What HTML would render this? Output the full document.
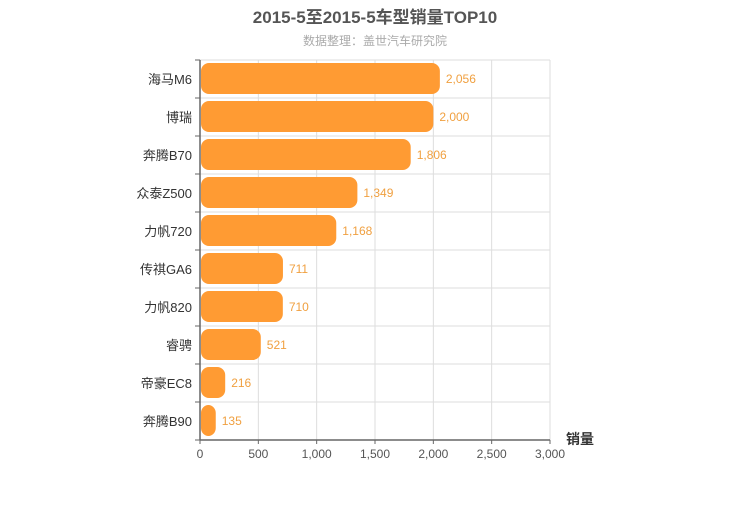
<!DOCTYPE html>
<html><head><meta charset="utf-8"><style>
body{margin:0;background:#fff;}
svg{font-family:"Liberation Sans","Noto Sans CJK SC",sans-serif;}
</style></head><body>
<svg width="750" height="500" id="c">
<text x="375" y="23" text-anchor="middle" font-size="17" font-weight="bold" fill="#555">2015-5至2015-5车型销量TOP10</text>
<text x="375" y="45" text-anchor="middle" font-size="12" fill="#aaa">数据整理：盖世汽车研究院</text>
<text x="580" y="444" text-anchor="middle" font-size="14" font-weight="bold" fill="#333">销量</text>
<g id="grid"></g><g id="bars"></g><g id="axes"></g>
</svg>
<script>
const categories=["海马M6","博瑞","奔腾B70","众泰Z500","力帆720","传祺GA6","力帆820","睿骋","帝豪EC8","奔腾B90"];
const values=[2056,2000,1806,1349,1168,711,710,521,216,135];
const ticks=[0,500,1000,1500,2000,2500,3000];
const X0=200,X1=550,Y0=60,Y1=440,max=3000;
const ns="http://www.w3.org/2000/svg";
const xs=v=>X0+(X1-X0)*v/max;
const rowH=(Y1-Y0)/categories.length;
const ys=i=>Y0+rowH*i;
function mk(t,a,p){const e=document.createElementNS(ns,t);for(const k in a)e.setAttribute(k,a[k]);p.appendChild(e);return e;}
const g=document.getElementById('grid'),b=document.getElementById('bars'),ax=document.getElementById('axes');
ticks.forEach(t=>{
 const l=mk('line',{x1:xs(t),x2:xs(t),y1:Y0,y2:Y1,stroke:'#ddd'},g);
 
 
 const tx=mk('text',{x:xs(t),y:Y1+18,'text-anchor':'middle','font-size':12,fill:'#555'},ax);
 tx.textContent=t.toLocaleString('en-US');
 
 
 const tk=mk('line',{x1:xs(t),x2:xs(t),y1:Y1,y2:Y1+4,stroke:'#666'},ax);
});
for(let i=0;i<=categories.length;i++){
 const l=mk('line',{x1:X0-5,x2:X1,y1:ys(i),y2:ys(i),stroke:'#ddd'},g);
 
 
 mk('line',{x1:X0-5,x2:X0,y1:ys(i),y2:ys(i),stroke:'#666'},ax);
}
mk('line',{x1:X0,x2:X0,y1:Y0,y2:Y1,stroke:'#666','stroke-width':1.5},ax);
mk('line',{x1:X0,x2:X1,y1:Y1,y2:Y1,stroke:'#666','stroke-width':1.5},ax);
categories.forEach((c,i)=>{
 const y=ys(i);
 const r=mk('rect',{x:X0+1,y:y+3,width:Math.max(0,xs(values[i])-X0-1),height:rowH-7,rx:8,ry:8,fill:'#ff9b33'},b);
 
 
 const v=mk('text',{x:xs(values[i])+6,y:y+rowH/2+4,'font-size':12,fill:'#f0a040'},b);
 v.textContent=values[i].toLocaleString('en-US');
 
 
 const t=mk('text',{x:X0-8,y:y+rowH/2+5,'text-anchor':'end','font-size':13,fill:'#333'},ax);
 t.textContent=c;
 
 
});
</script>
</body></html>
